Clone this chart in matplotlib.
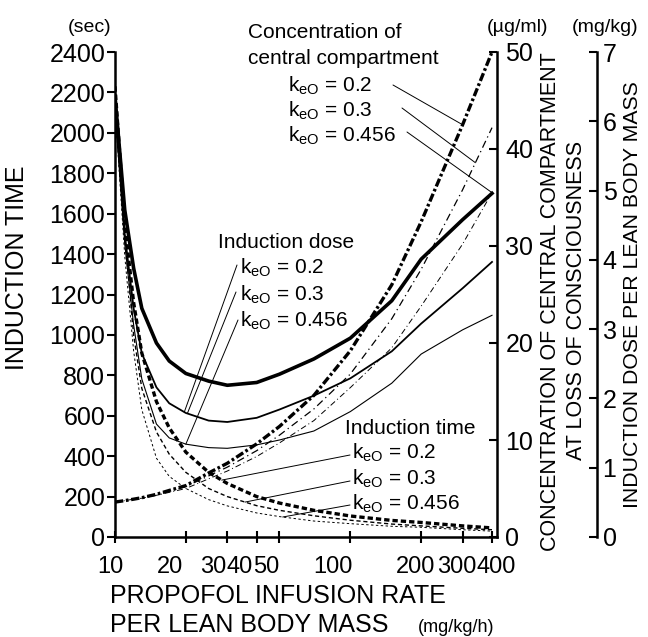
import matplotlib
matplotlib.use('Agg')
import matplotlib.pyplot as plt
from matplotlib.ticker import NullLocator, FixedLocator
from matplotlib.transforms import ScaledTranslation
import numpy as np

plt.rcParams['font.family'] = ['Liberation Sans', 'DejaVu Sans']
plt.rcParams['mathtext.default'] = 'regular'

# propofol infusion rate per lean body mass (mg/kg/h)
rate = [10, 11, 12, 13, 15, 17, 20, 25, 30, 40, 50, 70, 100, 150, 200, 300, 400]

# induction time (sec)
time_02 = [2230, 1550, 1160, 910, 670, 540, 420, 320, 265, 200, 168, 132, 104, 82, 72, 55, 45]
time_03 = [2180, 1490, 1000, 735, 520, 410, 320, 240, 200, 155, 132, 105, 83, 64, 55, 43, 36]
time_0456 = [2130, 1390, 920, 630, 390, 300, 240, 185, 154, 119, 101, 79, 66, 53, 48, 36, 29]

# induction dose (mg/kg)
dose_02 = [6.36, 4.72, 3.88, 3.30, 2.80, 2.54, 2.36, 2.25, 2.19, 2.23, 2.35, 2.57, 2.87, 3.41, 4.01, 4.58, 4.96]
dose_03 = [6.27, 4.37, 3.30, 2.65, 2.16, 1.93, 1.79, 1.68, 1.66, 1.72, 1.84, 2.04, 2.29, 2.68, 3.08, 3.59, 3.97]
dose_0456 = [6.18, 4.23, 3.06, 2.28, 1.63, 1.43, 1.34, 1.29, 1.28, 1.33, 1.40, 1.53, 1.81, 2.22, 2.64, 2.99, 3.20]

# concentration of central compartment at loss of consciousness (ug/ml)
conc_02 = [3.6, 3.75, 3.9, 4.05, 4.4, 4.8, 5.3, 6.6, 7.6, 9.6, 11.4, 14.6, 19.2, 26.0, 32.5, 42.5, 50.0]
conc_03 = [3.6, 3.75, 3.9, 4.05, 4.35, 4.7, 5.2, 6.3, 7.2, 8.9, 10.5, 13.2, 16.8, 22.5, 27.6, 35.8, 42.2]
conc_0456 = [3.6, 3.75, 3.9, 4.0, 4.3, 4.6, 5.0, 6.0, 6.8, 8.3, 9.7, 12.0, 15.4, 19.5, 23.8, 30.2, 35.5]

xticks = [10, 20, 30, 40, 50, 100, 200, 300, 400]
time_ticks = list(range(0, 2401, 200))
conc_ticks = [0, 10, 20, 30, 40, 50]
dose_ticks = [0, 1, 2, 3, 4, 5, 6, 7]

# horizontal nudge of the x tick labels (pixels), as printed in the original
xlab_shift = [-5, -16, -14, -17, -13, -17, -6, -6, 4]

W, H = 648, 637
fig = plt.figure(figsize=(W / 100, H / 100), dpi=100)
ax = fig.add_axes([115 / W, 1 - 537 / H, 382 / W, 485 / H])
ax_c = ax.twinx()
ax_d = ax.twinx()

TICK = 18
SW = 1.8

# time axis
ax.set_xscale('log')
ax.set_xlim(10, 420)
ax.set_ylim(0, 2400)
ax.xaxis.set_major_locator(FixedLocator(xticks))
ax.xaxis.set_minor_locator(NullLocator())
ax.set_xticklabels([str(t) for t in xticks])
ax.set_yticks(time_ticks)
ax.tick_params(axis='y', direction='out', length=6, width=1.5, labelsize=TICK, pad=1)
ax.tick_params(axis='x', direction='inout', length=9, width=1.5, labelsize=17, pad=9)
for tick, dx in zip(ax.xaxis.get_major_ticks(), xlab_shift):
    tick.label1.set_transform(tick.label1.get_transform() +
                              ScaledTranslation(dx / 100, 0, fig.dpi_scale_trans))
for s in ['top', 'right']:
    ax.spines[s].set_visible(False)
for s in ['left', 'bottom']:
    ax.spines[s].set_linewidth(SW)

# concentration axis
ax_c.set_ylim(0, 50)
ax_c.set_yticks(conc_ticks)
ax_c.tick_params(axis='y', direction='in', length=6, width=1.5, labelsize=TICK, pad=6)
for s in ['top', 'left', 'bottom']:
    ax_c.spines[s].set_visible(False)
ax_c.spines['right'].set_linewidth(SW)

# dose axis
ax_d.set_ylim(0, 7)
ax_d.set_yticks(dose_ticks)
ax_d.spines['right'].set_position(('axes', 482 / 382))
ax_d.tick_params(axis='y', direction='in', length=6, width=1.5, labelsize=TICK, pad=4)
for s in ['top', 'left', 'bottom']:
    ax_d.spines[s].set_visible(False)
ax_d.spines['right'].set_linewidth(SW)

k = 'black'
# induction time
ax.plot(rate, time_02, color=k, lw=2.4, ls=(0, (1.6, 0.9)))
ax.plot(rate, time_03, color=k, lw=1.0, ls=(0, (3, 2)))
ax.plot(rate, time_0456, color=k, lw=0.7, ls=(0, (2.5, 2.5)))
# induction dose
ax_d.plot(rate, dose_02, color=k, lw=2.6)
ax_d.plot(rate, dose_03, color=k, lw=1.3)
ax_d.plot(rate, dose_0456, color=k, lw=0.8)
# concentration
ax_c.plot(rate, conc_02, color=k, lw=2.4, ls=(0, (2.5, 0.8, 0.8, 0.8)))
ax_c.plot(rate, conc_03, color=k, lw=0.9, ls=(0, (6, 3, 1, 3)))
ax_c.plot(rate, conc_0456, color=k, lw=0.7, ls=(0, (6, 3, 1, 3)))


def point_to(axis, x, ys, start):
    y = np.interp(np.log10(x), np.log10(rate), ys)
    axis.annotate('', xy=(x, y), xycoords='data',
                  xytext=(start[0], H - start[1]), textcoords='figure pixels',
                  arrowprops=dict(arrowstyle='-', lw=0.7, color=k,
                                  shrinkA=0, shrinkB=0),
                  annotation_clip=False)


def ftext(x, y, s, **kw):
    kw.setdefault('fontsize', 15)
    kw.setdefault('va', 'center')
    kw.setdefault('ha', 'left')
    fig.text(x / W, 1 - y / H, s, **kw)


keo = 'k$_{eO}$ = '

# concentration labels
ftext(248, 32, 'Concentration of')
ftext(248, 58, 'central compartment')
ftext(288, 86, keo + '0.2')
ftext(288, 111, keo + '0.3')
ftext(288, 136, keo + '0.456')
point_to(ax_c, 300, conc_02, (393, 85))
point_to(ax_c, 340, conc_03, (402, 108))
point_to(ax_c, 400, conc_0456, (407, 132))

# induction dose labels
ftext(218, 242, 'Induction dose')
ftext(240, 268, keo + '0.2')
ftext(240, 295, keo + '0.3')
ftext(240, 321, keo + '0.456')
point_to(ax_d, 19.7, dose_03, (237, 265))
point_to(ax_d, 20.3, dose_03, (236, 292))
point_to(ax_d, 20.0, dose_0456, (238, 320))

# induction time labels
ftext(345, 428, 'Induction time')
ftext(352, 453, keo + '0.2')
ftext(352, 479, keo + '0.3')
ftext(352, 504, keo + '0.456')
point_to(ax, 28.4, time_02, (350, 455))
point_to(ax, 35.7, time_03, (350, 481))
point_to(ax, 51.6, time_0456, (350, 505))

# units and axis titles
ftext(90, 28, '(sec)', ha='center', fontsize=14)
ftext(518, 28, '(\u00b5g/ml)', ha='center', fontsize=14)
ftext(605, 28, '(mg/kg)', ha='center', fontsize=14)
ftext(17, 268, 'INDUCTION TIME', rotation=90, ha='center', fontsize=18)
ftext(550, 302, 'CONCENTRATION OF CENTRAL COMPARTMENT', rotation=90, ha='center', fontsize=15.5)
ftext(577, 300, 'AT LOSS OF CONSCIOUSNESS', rotation=90, ha='center', fontsize=15.5)
ftext(633, 295, 'INDUCTION DOSE PER LEAN BODY MASS', rotation=90, ha='center', fontsize=15.3)
ftext(110, 603, 'PROPOFOL INFUSION RATE', fontsize=18, va='baseline')
ftext(110, 632, 'PER LEAN BODY MASS', fontsize=18, va='baseline')
ftext(418, 632, '(mg/kg/h)', fontsize=13, va='baseline')

fig.savefig('out.png', dpi=100)
